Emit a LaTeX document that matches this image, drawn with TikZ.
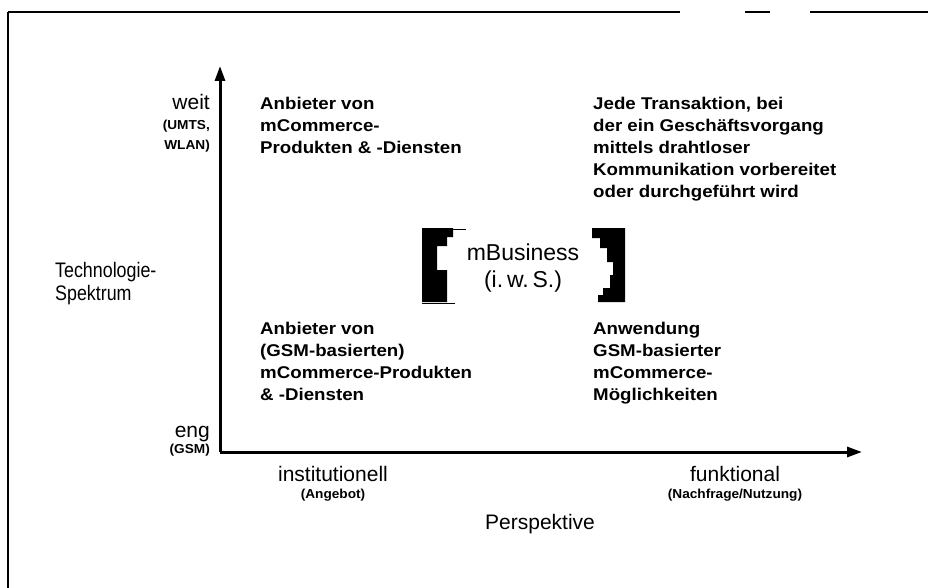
\documentclass[tikz,border=0pt]{standalone}
\usepackage{fontspec}
\setmainfont{Liberation Sans}
\newfontfamily\quadfont[FakeStretch=1.1]{Liberation Sans Bold}
\newfontfamily\smallfont[FakeStretch=1.05]{Liberation Sans Bold}
\newfontfamily\techfont[FakeStretch=0.85]{Liberation Sans}
\usetikzlibrary{arrows.meta}
\begin{document}
\begin{tikzpicture}[x=1pt,y=-1pt,
  quad/.style={anchor=north west,align=left,inner sep=0pt,font=\quadfont\fontsize{17}{22}\selectfont},
  biglabel/.style={inner sep=0pt,font=\fontsize{21}{24}\selectfont},
  smalllabel/.style={inner sep=0pt,font=\smallfont\fontsize{13}{20}\selectfont},
  axis/.style={line width=3pt,-{Triangle[width=10pt,length=15pt]}},
  frame/.style={line width=2pt}]
\useasboundingbox (0,0) rectangle (928,588);
% frame (scanned border)
\draw[frame] (8,12) -- (680,12);
\draw[frame] (745,12) -- (770,12);
\draw[frame] (810,12) -- (928,12);
\draw[frame] (8,12) -- (8,588);
% axes
\coordinate (O) at (220,452);
\coordinate (Ytip) at (220,66);
\coordinate (Xtip) at (862,452);
\draw[axis] (O) -- (Ytip);
\draw[axis] (O) -- (Xtip);
% vertical axis labels
\node[biglabel,anchor=base east] (weit) at (210,110) {weit};
\node[smalllabel,anchor=north east,align=right] (umts) at (210,120) {(UMTS,\\WLAN)};
\node[biglabel,anchor=north west,align=left,font=\techfont\fontsize{21}{23}\selectfont] (tech) at (55,262) {Technologie-\\Spektrum};
\node[biglabel,anchor=base east] (eng) at (210,437) {eng};
\node[smalllabel,anchor=base east] (gsm) at (210,453) {(GSM)};
% horizontal axis labels
\node[biglabel,anchor=base] (inst) at (333,481) {institutionell};
\node[smalllabel,anchor=base] (angebot) at (333,498) {(Angebot)};
\node[biglabel,anchor=base] (funk) at (735,481) {funktional};
\node[smalllabel,anchor=base] (nach) at (735,498) {(Nachfrage/Nutzung)};
\node[biglabel,anchor=base] (persp) at (540,529) {Perspektive};
% quadrant texts
\node[quad] (tl) at (260,97) {Anbieter von\\mCommerce-\\Produkten \& -Diensten};
\node[quad] (tr) at (593,97) {Jede Transaktion, bei\\der ein Geschäftsvorgang\\mittels drahtloser\\Kommunikation vorbereitet\\oder durchgeführt wird};
\node[quad] (bl) at (260,322) {Anbieter von\\(GSM-basierten)\\mCommerce-Produkten\\\& -Diensten};
\node[quad] (br) at (593,322) {Anwendung\\GSM-basierter\\mCommerce-\\Möglichkeiten};
% mBusiness box
\node[biglabel,align=center,font=\fontsize{23}{27}\selectfont] (mb) at (523,268) {mBusiness\\(i.\,w.\,S.)};
\fill (422,228) -- (453,228) -- (453,237) -- (447,237) -- (447,246) -- (437,246)
  -- (437,270) -- (447,270) -- (447,302) -- (422,302) -- cycle;
\fill (592,228) -- (625,228) -- (625,302) -- (598,302) -- (598,295) -- (603,295)
  -- (603,288) -- (610,288) -- (610,275) -- (613,275) -- (613,262) -- (607,262)
  -- (607,248) -- (600,248) -- (600,238) -- (592,238) -- cycle;
\draw[line width=0.8pt] (453,229) -- (466,229);
\draw[line width=0.8pt] (422,303) -- (455,303);
\end{tikzpicture}
\end{document}
